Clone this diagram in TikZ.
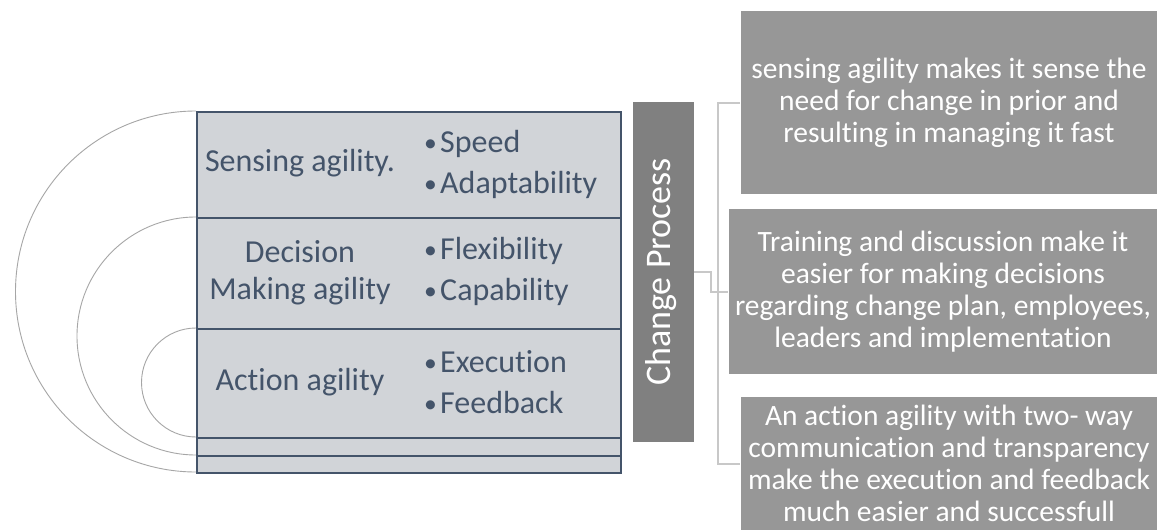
\documentclass[tikz,border=0pt]{standalone}
\usepackage{fontspec}
\setmainfont{Carlito}[RawFeature={-liga;-clig}]
\definecolor{slate}{HTML}{44546A}
\definecolor{rowgray}{HTML}{D1D4D8}
\definecolor{ringgray}{HTML}{A6A6A6}
\definecolor{cpgray}{HTML}{808080}
\definecolor{descgray}{HTML}{979797}
\definecolor{linkgray}{HTML}{C8C8C8}
\newcommand{\blt}{\makebox[16pt][l]{\raisebox{1pt}{\scalebox{0.8}{•}}}}
\begin{document}
\begin{tikzpicture}[x=1pt,y=1pt,
  row/.style={draw=slate,line width=1.8pt,fill=rowgray,minimum width=424pt,inner sep=0pt,anchor=north west},
  lbl/.style={text=slate,font=\fontsize{32}{37}\selectfont,align=center,inner sep=0pt},
  pts/.style={text=slate,font=\fontsize{32}{41}\selectfont,align=left,anchor=west,inner sep=0pt},
  ring/.style={draw=ringgray,line width=0.9pt},
  desc/.style={fill=descgray,draw=white,line width=1pt,text=white,font=\fontsize{29.5}{32}\selectfont,align=center,inner sep=0pt,anchor=north west},
  link/.style={draw=linkgray,line width=2pt}]
\fill[white] (0,0) rectangle (1157,-530);
\useasboundingbox (0,0) rectangle (1157,-530);
\node[row,minimum height=106pt] (rowA) at (196,-111) {};
\node[row,minimum height=111pt] (rowB) at (196,-217) {};
\node[row,minimum height=109pt] (rowC) at (196,-328) {};
\node[row,minimum height=18pt] (rowD) at (196,-437) {};
\node[row,minimum height=17pt] (rowE) at (196,-455) {};
\draw[ring] (rowA.north west) arc[start angle=90,end angle=270,radius=180.5];
\draw[ring] (rowB.north west) arc[start angle=90,end angle=270,radius=119];
\draw[ring] (rowC.north west) arc[start angle=90,end angle=270,radius=54.5];
\node[lbl] (sense) at (300,-163) {Sensing agility.};
\node[pts] (sensepts) at (424,-164) {\blt Speed\\\blt Adaptability};
\node[lbl] (decide) at (300,-273) {Decision\\Making agility};
\node[pts] (decidepts) at (424,-271) {\blt Flexibility\\\blt Capability};
\node[lbl] (act) at (300,-382) {Action agility};
\node[pts] (actpts) at (424,-382) {\blt Execution\\\blt Feedback};
\node[fill=cpgray,minimum width=61pt,minimum height=340pt,inner sep=0pt] (cp) at (663.5,-272) {};
\node[rotate=90,text=white,font=\fontsize{36}{40}\selectfont,inner sep=0pt] (cptext) at (661,-272) {Change Process};
\node[desc,minimum width=417pt,minimum height=184pt] (sensebox) at (740,-10) {sensing agility makes it sense the\\need for change in prior and\\resulting in managing it fast};
\node[desc,minimum width=429pt,minimum height=166pt] (decidebox) at (728,-208) {Training and discussion make it\\easier for making decisions\\regarding change plan, employees,\\leaders and implementation};
\node[desc,minimum width=417pt,minimum height=134pt] (actbox) at (740,-396) {An action agility with two- way\\communication and transparency\\make the execution and feedback\\much easier and successfull};
\draw[link] (cp.east) -- ++(17,0) coordinate (split) |- (decidebox.west);
\draw[link] (sensebox.west) -- ++(-22,0) coordinate (rail) |- (actbox.west);
\end{tikzpicture}
\end{document}
